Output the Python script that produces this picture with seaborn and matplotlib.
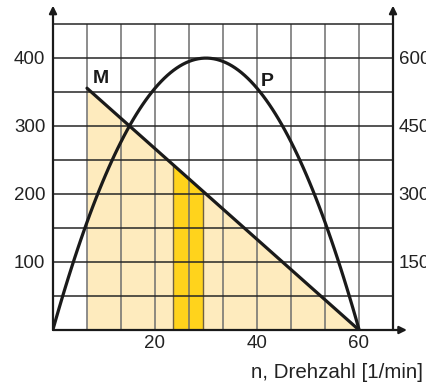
import numpy as np
import pandas as pd
import matplotlib
matplotlib.use("Agg")
import matplotlib.pyplot as plt
import seaborn as sns

# Speed n [1/min] and torque M (left axis)
m_speed = [6.667, 60.0]
m_torque = [355.6, 0.0]

# Power P (right axis), read at the grid columns
p_speed = [0, 6.667, 13.333, 20, 26.667, 30, 33.333, 40, 46.667, 53.333, 60]
p_power = [0, 240, 415, 535, 590, 600, 590, 535, 415, 240, 0]

# Highlighted speed band under the torque line
band_speed = [23.5, 29.5]
band_torque = [243.0, 203.0]

x_ticks = [20, 40, 60]
left_ticks = [100, 200, 300, 400]
right_ticks = [150, 300, 450, 600]

sns.set_style("white")
plt.rcParams["font.family"] = ["Liberation Sans", "DejaVu Sans"]

fig = plt.figure(figsize=(4.26, 3.85), dpi=100)
W, H = 426, 385
ax = fig.add_axes([53 / W, 1 - 330 / H, 340 / W, 323 / H])
ax2 = ax.twinx()

x_max = 66.667
y_top = 475
grid_top = 450

ax.set_xlim(0, x_max)
ax.set_ylim(0, y_top)
ax2.set_ylim(0, y_top * 1.5)

light = "#FEEBBE"
strong = "#FFD31C"
ink = "#1a1a1a"
label_col = "#222222"

# Fills under torque line
ax.fill_between(m_speed, m_torque, 0, color=light, lw=0, zorder=1)
ax.fill_between(band_speed, band_torque, 0, color=strong, lw=0, zorder=1.5)
for bx in band_speed:
    ax.vlines(bx, 0, np.interp(bx, band_speed, band_torque), color="#6f6040", lw=1.0, zorder=1.6)

# Grid
grid_x = np.arange(1, 10) * (x_max / 10)
grid_y = np.arange(1, 10) * 50
ax.vlines(grid_x, 0, grid_top, color="#6e6e6e", lw=1.1, zorder=2)
ax.hlines(grid_y, 0, x_max, color="#262626", lw=1.1, zorder=2)

# Torque line
df_m = pd.DataFrame({"n": m_speed, "M": m_torque})
sns.lineplot(data=df_m, x="n", y="M", ax=ax, color=ink, lw=2.3, zorder=4)

# Power curve (quadratic through the read points)
df_p = pd.DataFrame({"n": p_speed, "P": p_power})
sns.regplot(data=df_p, x="n", y="P", ax=ax2, order=2, ci=None, scatter=False,
            line_kws=dict(color=ink, lw=2.3, zorder=4))

ax.text(9.4, 370, "M", fontsize=14, fontweight="bold", ha="center", va="center", color=ink)
ax.text(42.0, 366, "P", fontsize=14, fontweight="bold", ha="center", va="center", color=ink)

# Axes with arrowheads
arrow = dict(arrowstyle="-|>", color=ink, lw=1.6, shrinkA=0, shrinkB=0, mutation_scale=11)
ax.annotate("", xy=(0, y_top + 2), xytext=(0, 0), arrowprops=arrow, annotation_clip=False, zorder=5)
ax.annotate("", xy=(x_max, y_top + 2), xytext=(x_max, 0), arrowprops=arrow, annotation_clip=False, zorder=5)
ax.annotate("", xy=(69.4, 0), xytext=(0, 0), arrowprops=arrow, annotation_clip=False, zorder=5)

for a in (ax, ax2):
    for s in a.spines.values():
        s.set_visible(False)
    a.grid(False)
    a.set_xlabel("")
    a.set_ylabel("")

ax.set_xticks(x_ticks)
ax.set_xticklabels([str(v) for v in x_ticks])
ax.set_yticks(left_ticks)
ax.set_yticklabels([str(v) for v in left_ticks])
ax2.set_yticks(right_ticks)
ax2.set_yticklabels([str(v) for v in right_ticks])
ax.tick_params(axis="both", length=0, labelsize=13.5, colors=label_col)
ax.tick_params(axis="x", pad=3.5)
ax.tick_params(axis="y", pad=5.5)
ax2.tick_params(axis="y", length=0, labelsize=13.5, colors=label_col, pad=4)

ax.set_xlabel("n, Drehzahl [1/min]", fontsize=14.8, color=label_col, ha="right", va="center")
ax.xaxis.set_label_coords((423 - 53) / 340, -(373 - 330) / 323)

fig.savefig("out.png", dpi=100)
